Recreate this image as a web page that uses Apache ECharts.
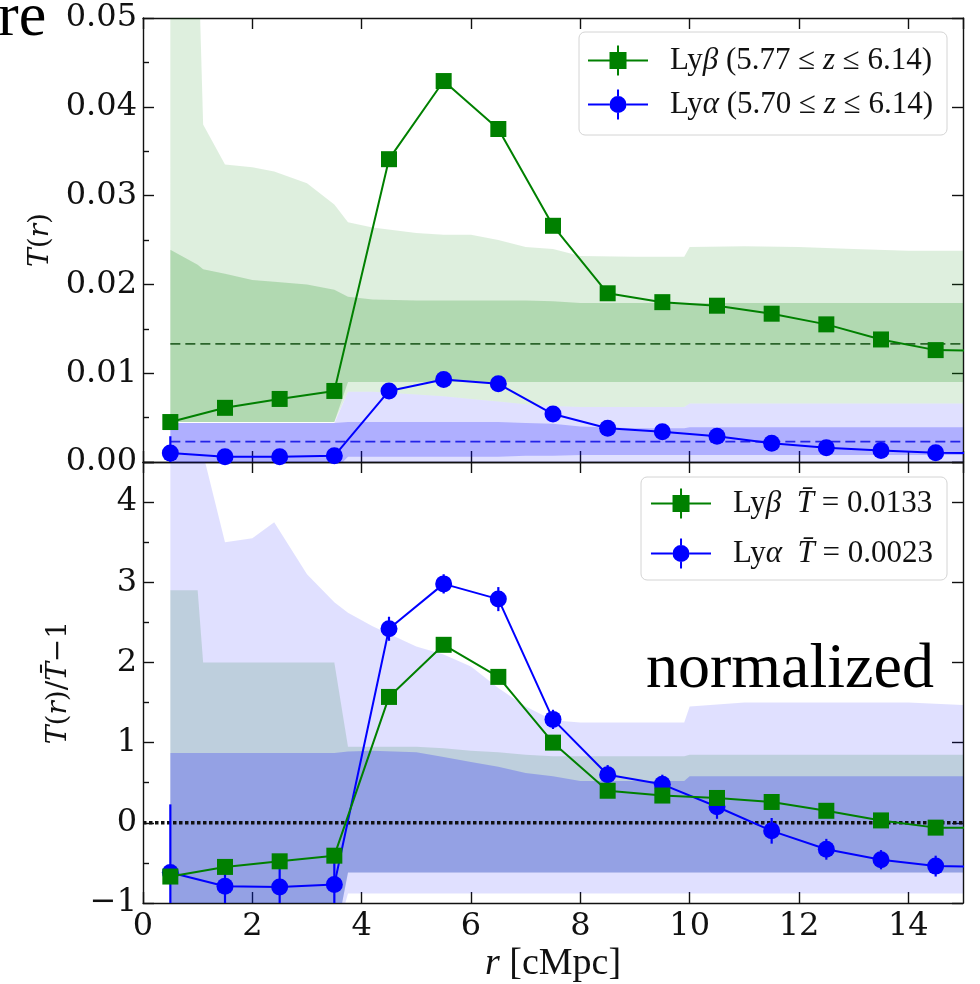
<!DOCTYPE html>
<html><head><meta charset="utf-8">
<script src="https://cdn.jsdelivr.net/npm/echarts@6/dist/echarts.min.js"></script>
<style>html,body{margin:0;padding:0;background:#fff}#c{width:980px;height:984px}</style>
</head><body><div id="c"></div>
<script>
// ---- data ----
const r = [0.5,1.5,2.5,3.5,4.5,5.5,6.5,7.5,8.5,9.5,10.5,11.5,12.5,13.5,14.5,15.5];
const tBeta  = [0.0045,0.0061,0.0071,0.0080,0.0341,0.0429,0.0375,0.0266,0.0190,0.0180,0.0176,0.0167,0.0155,0.0138,0.0126,0.0125];
const tAlpha = [0.0010,0.0006,0.0006,0.0007,0.0080,0.0093,0.0088,0.0054,0.0038,0.0034,0.0029,0.0021,0.0016,0.0013,0.00105,0.0010];
const tBetaErr  = [0.0006,0.0005,0.0005,0.0005,0.0007,0.0007,0.0007,0.0006,0.0005,0.0005,0.0005,0.0005,0.0005,0.0005,0.0005,0.0005];
const tAlphaErr = [0.0019,0.0007,0.0007,0.0007,0.0003,0.0003,0.0003,0.0003,0.0003,0.0003,0.0003,0.0004,0.0003,0.0003,0.0003,0.0003];
const nBeta  = [-0.67,-0.55,-0.48,-0.41,1.57,2.22,1.82,1.00,0.40,0.34,0.31,0.26,0.15,0.03,-0.06,-0.06];
const nAlpha = [-0.62,-0.79,-0.80,-0.77,2.42,2.98,2.79,1.29,0.60,0.48,0.20,-0.10,-0.33,-0.46,-0.54,-0.55];
const nBetaErr  = [0.06,0.06,0.06,0.06,0.06,0.06,0.06,0.06,0.06,0.06,0.06,0.06,0.06,0.06,0.06,0.06];
const nAlphaErr = [0.85,0.30,0.28,0.28,0.15,0.12,0.15,0.12,0.12,0.12,0.15,0.16,0.13,0.12,0.13,0.13];
const meanBeta = 0.0133, meanAlpha = 0.0023;

const bandR = [0.5,1.0,1.1,1.5,2.0,2.4,3.0,3.5,3.75,4.2,5.0,5.5,6.0,6.5,7.0,7.5,8.0,9.0,9.9,10.0,11.0,12.0,13.0,14.0,15.0];
// top panel bands (T units)
const topGreenLightUp = [0.06,0.06,0.038,0.0335,0.0332,0.0327,0.0314,0.029,0.027,0.0264,0.0258,0.0256,0.0256,0.025,0.0242,0.024,0.0232,0.0231,0.0231,0.0242,0.0243,0.0242,0.024,0.0238,0.0238];
const topGreenLightLo = [0.0045,0.0045,0.0045,0.0045,0.0045,0.0045,0.0045,0.0045,0.0079,0.0079,0.0076,0.0074,0.0071,0.0068,0.0065,0.0063,0.0062,0.0062,0.0062,0.0066,0.0066,0.0066,0.0066,0.0066,0.0066];
const topGreenDarkUp  = [0.0239,0.0222,0.0217,0.0212,0.0205,0.0203,0.0200,0.0194,0.0186,0.0183,0.0182,0.0182,0.0182,0.0182,0.0182,0.0181,0.0179,0.0179,0.0179,0.0179,0.0179,0.0179,0.0179,0.0179,0.0179];
const topGreenDarkLo  = [0.0045,0.0045,0.0045,0.0045,0.0045,0.0045,0.0045,0.0045,0.009,0.009,0.009,0.009,0.009,0.009,0.009,0.009,0.009,0.009,0.009,0.009,0.009,0.009,0.009,0.009,0.009];
const topBlueLightUp  = [0.0044,0.0044,0.0044,0.0044,0.0044,0.0044,0.0044,0.0044,0.0079,0.0079,0.0076,0.0074,0.0071,0.0068,0.0065,0.0063,0.0062,0.0062,0.0062,0.0066,0.0066,0.0066,0.0066,0.0066,0.0066];
const topBlueLightLo  = [-0.001,-0.001,-0.001,-0.001,-0.001,-0.001,-0.001,-0.001,-0.001,-0.001,-0.001,-0.001,-0.001,-0.001,-0.001,-0.001,-0.001,-0.001,-0.001,-0.001,-0.001,-0.001,-0.001,-0.001,-0.001];
const topBlueDarkUp   = [0.0044,0.0044,0.0044,0.0044,0.0044,0.0044,0.0044,0.0044,0.0045,0.0045,0.0045,0.0045,0.0045,0.0045,0.0044,0.0043,0.0040,0.0038,0.0038,0.0039,0.0039,0.0039,0.0039,0.0039,0.0039];
const topBlueDarkLo   = [-0.001,-0.001,-0.001,-0.001,-0.001,-0.001,-0.001,-0.001,0.0006,0.0006,0.0006,0.0006,0.0006,0.0006,0.0007,0.0007,0.0008,0.0008,0.0008,0.0008,0.0008,0.0008,0.0008,0.0008,0.0008];
// bottom panel bands (normalized)
const botGreenLightUp = [2.9,2.9,2.0,2.0,2.0,2.0,2.0,2.0,0.95,0.95,0.95,0.93,0.9,0.88,0.85,0.83,0.83,0.83,0.83,0.85,0.85,0.85,0.85,0.85,0.85];
const botGreenLightLo = [-1.5,-1.5,-1.5,-1.5,-1.5,-1.5,-1.5,-1.5,-0.62,-0.62,-0.62,-0.62,-0.62,-0.62,-0.62,-0.62,-0.62,-0.62,-0.62,-0.62,-0.62,-0.62,-0.62,-0.62,-0.62];
const botBlueLightUp  = [6,6,4.6,3.5,3.55,3.75,3.1,2.75,2.62,2.45,2.2,2.1,1.95,1.68,1.45,1.28,1.25,1.25,1.25,1.45,1.5,1.5,1.5,1.5,1.47];
const botBlueLightLo  = [-1.5,-1.5,-1.5,-1.5,-1.5,-1.5,-1.5,-1.5,-0.88,-0.88,-0.88,-0.88,-0.88,-0.88,-0.88,-0.88,-0.88,-0.88,-0.88,-0.88,-0.88,-0.88,-0.88,-0.88,-0.88];
const botBlueDarkUp   = [0.87,0.87,0.87,0.87,0.87,0.87,0.87,0.87,0.89,0.9,0.88,0.82,0.76,0.7,0.62,0.58,0.52,0.52,0.52,0.58,0.58,0.58,0.58,0.58,0.58];
const botBlueDarkLo   = [-1.5,-1.5,-1.5,-1.5,-1.5,-1.5,-1.5,-1.5,-0.62,-0.62,-0.62,-0.62,-0.62,-0.62,-0.62,-0.62,-0.62,-0.62,-0.62,-0.62,-0.62,-0.62,-0.62,-0.62,-0.62];

const legendTop = {
  b_top: '{sp| }{n|Ly}{i|β}{n| (5.77 ≤ }{i|z}{n| ≤ 6.14)}',
  a_top: '{sp| }{n|Ly}{i|α}{n| (5.70 ≤ }{i|z}{n| ≤ 6.14)}'
};
const legendBot = {
  b_bot: '{sp| }{n|Ly}{i|β}{n|  }{i|T̄}{n| = 0.0133}',
  a_bot: '{sp| }{n|Ly}{i|α}{n|  }{i|T̄}{n| = 0.0023}'
};

// ---- helpers ----
const GREEN = '#008000', BLUE = '#0000ff';
function band(xi, yi, up, lo, color, z) {
  return {
    type: 'custom', xAxisIndex: xi, yAxisIndex: yi, silent: true, clip: true, z: z,
    data: [[bandR[0], lo[0]]],
    renderItem: function (params, api) {
      const pts = [];
      for (let i = 0; i < bandR.length; i++) pts.push(api.coord([bandR[i], up[i]]));
      for (let i = bandR.length - 1; i >= 0; i--) pts.push(api.coord([bandR[i], lo[i]]));
      return { type: 'polygon', shape: { points: pts }, style: { fill: color } };
    }
  };
}
function errs(xi, yi, vals, e, color, z) {
  return {
    type: 'custom', xAxisIndex: xi, yAxisIndex: yi, silent: true, clip: true, z: z,
    data: r.map((x, i) => [x, vals[i], e[i]]),
    encode: { x: 0, y: 1 },
    renderItem: function (params, api) {
      const x = api.value(0), y = api.value(1), d = api.value(2);
      const p1 = api.coord([x, y - d]), p2 = api.coord([x, y + d]);
      return { type: 'line', shape: { x1: p1[0], y1: p1[1], x2: p2[0], y2: p2[1] }, style: { stroke: color, lineWidth: 2.2 } };
    }
  };
}
function line(name, xi, yi, vals, color, sym, size, z) {
  return {
    type: 'line', name: name, xAxisIndex: xi, yAxisIndex: yi, silent: true, z: z,
    data: r.map((x, i) => [x, vals[i]]),
    symbol: sym, symbolSize: size, showAllSymbol: true,
    itemStyle: { color: color }, lineStyle: { color: color, width: 2 }
  };
}
function hline(xi, yi, y0, x0, color, width, dash, z) {
  return {
    type: 'line', xAxisIndex: xi, yAxisIndex: yi, silent: true, z: z, symbol: 'none',
    data: [[x0, y0], [15, y0]],
    lineStyle: { color: color, width: width, type: dash }
  };
}

const AX = { color: '#111', width: 1.4 };
const tickFont = { fontFamily: 'DejaVu Serif', fontSize: 32, color: '#111' };
function xAx(grid, pos, labels) {
  return {
    type: 'value', gridIndex: grid, position: pos, min: 0, max: 15, interval: 2,
    axisLine: { show: true, onZero: false, lineStyle: AX },
    axisTick: { show: true, inside: true, length: 11, lineStyle: AX },
    splitLine: { show: false },
    axisLabel: Object.assign({ show: labels, margin: 8, showMaxLabel: false, formatter: v => String(v) }, tickFont)
  };
}
function yAx(grid, pos, min, max, interval, labels, fmt, minor) {
  return {
    type: 'value', gridIndex: grid, position: pos, min: min, max: max, interval: interval,
    axisLine: { show: true, onZero: false, lineStyle: AX },
    axisTick: { show: true, inside: true, length: 11, lineStyle: AX },
    minorTick: { show: minor, splitNumber: 2, length: 6, lineStyle: AX },
    splitLine: { show: false }, minorSplitLine: { show: false },
    axisLabel: Object.assign({ show: labels, margin: 6, formatter: fmt }, tickFont)
  };
}
const nameRich = {
  n: { fontFamily: 'DejaVu Serif', fontSize: 28, color: '#111' },
  i: { fontFamily: 'DejaVu Serif', fontSize: 28, fontStyle: 'italic', color: '#111' }
};
const legRich = {
  sp: { width: 17 },
  n: { fontFamily: 'Liberation Serif', fontSize: 31, color: '#111', lineHeight: 30 },
  i: { fontFamily: 'Liberation Serif', fontSize: 31, fontStyle: 'italic', color: '#111', lineHeight: 30 }
};
const iconSq = 'path://M0,14h21.5v2h-21.5z M38.5,14h21.5v2h-21.5z M21.5,6.5h17v17h-17z M29,0h2v6.5h-2z M29,23.5h2v6.5h-2z';
const iconCi = 'path://M0,14h21.5v2h-21.5z M38.5,14h21.5v2h-21.5z M38.5,15a8.5,8.5 0 1,1 -17,0a8.5,8.5 0 1,1 17,0z M29,0h2v6.6h-2z M29,23.4h2v6.6h-2z';

const yTopAx = yAx(0, 'left', 0, 0.05, 0.01, true, v => v.toFixed(2), true);
yTopAx.name = '{i|T}{n|(}{i|r}{n|)}';
yTopAx.nameLocation = 'middle'; yTopAx.nameGap = 88; yTopAx.nameRotate = 90;
yTopAx.nameTextStyle = { rich: nameRich };
const yBotAx = yAx(1, 'left', -1, 4.5, 1, true, v => String(v).replace('-', '\u2212'), true);
yBotAx.axisLabel.showMaxLabel = false;
yBotAx.name = '{i|T}{n|(}{i|r}{n|)/}{i|T̄}{n|\u22121}';
yBotAx.nameLocation = 'middle'; yBotAx.nameGap = 70; yBotAx.nameRotate = 90;
yBotAx.nameTextStyle = { rich: nameRich };
const xBotAx = xAx(1, 'bottom', true);
xBotAx.name = '{i|r}{n| [cMpc]}';
xBotAx.nameLocation = 'middle'; xBotAx.nameGap = 42;
xBotAx.nameTextStyle = { rich: {
  n: { fontFamily: 'Liberation Serif', fontSize: 38, color: '#111' },
  i: { fontFamily: 'Liberation Serif', fontSize: 38, fontStyle: 'italic', color: '#111' } } };

const legendBase = {
  orient: 'vertical', right: 33, itemWidth: 60, itemHeight: 30, selectedMode: false,
  borderColor: '#d4d4d4', borderWidth: 1, borderRadius: 6, backgroundColor: 'rgba(255,255,255,0.85)',
  textStyle: { fontFamily: 'Liberation Serif', fontSize: 31, color: '#111', rich: legRich }
};

const option = {
  animation: false,
  backgroundColor: '#fff',
  grid: [
    { left: 143, right: 17, top: 18, height: 444 },
    { left: 143, right: 17, top: 462, height: 443 }
  ],
  xAxis: [ xAx(0, 'bottom', false), xAx(0, 'top', false), xBotAx, xAx(1, 'top', false) ],
  yAxis: [
    yTopAx, yAx(0, 'right', 0, 0.05, 0.01, false, v => v, false),
    yBotAx, yAx(1, 'right', -1, 4.5, 1, false, v => v, false)
  ],
  legend: [
    Object.assign({}, legendBase, {
      top: 32, itemGap: 13, padding: [13, 14, 15, 9],
      data: [{ name: 'b_top', icon: iconSq }, { name: 'a_top', icon: iconCi }],
      formatter: n => legendTop[n]
    }),
    Object.assign({}, legendBase, {
      top: 477, itemGap: 19, padding: [11, 14, 11, 10],
      data: [{ name: 'b_bot', icon: iconSq }, { name: 'a_bot', icon: iconCi }],
      formatter: n => legendBot[n]
    })
  ],
  graphic: [
    { type: 'text', x: -2, y: -12, z: 100, style: { text: 're', font: '62px "Liberation Serif"', fill: '#000', verticalAlign: 'top' } },
    { type: 'text', x: 646, y: 638, z: 100, style: { text: 'normalized', font: '64px "Liberation Serif"', fill: '#000', verticalAlign: 'top' } }
  ],
  series: [
    // top panel
    band(0, 0, topBlueLightUp, topBlueLightLo, 'rgba(0,0,255,0.12)', 1),
    band(0, 0, topBlueDarkUp, topBlueDarkLo, 'rgba(0,0,255,0.22)', 2),
    band(0, 0, topGreenLightUp, topGreenLightLo, 'rgba(0,128,0,0.13)', 3),
    band(0, 0, topGreenDarkUp, topGreenDarkLo, 'rgba(0,128,0,0.2)', 4),
    hline(0, 0, meanBeta, bandR[0], 'rgba(20,80,20,0.85)', 1.6, [10, 5], 5),
    hline(0, 0, meanAlpha, bandR[0], 'rgba(20,20,230,0.9)', 1.6, [10, 5], 5),
    errs(0, 0, tBeta, tBetaErr, GREEN, 6),
    errs(0, 0, tAlpha, tAlphaErr, BLUE, 6),
    line('b_top', 0, 0, tBeta, GREEN, 'rect', 16, 7),
    line('a_top', 0, 0, tAlpha, BLUE, 'circle', 17, 8),
    // bottom panel
    band(2, 2, botGreenLightUp, botGreenLightLo, 'rgba(0,128,0,0.15)', 1),
    band(2, 2, botBlueLightUp, botBlueLightLo, 'rgba(0,0,255,0.12)', 3),
    band(2, 2, botBlueDarkUp, botBlueDarkLo, 'rgba(0,0,255,0.22)', 4),
    hline(2, 2, 0, 0, '#111', 3.5, [3.5, 2.5], 5),
    errs(2, 2, nAlpha, nAlphaErr, BLUE, 6),
    errs(2, 2, nBeta, nBetaErr, GREEN, 6),
    line('a_bot', 2, 2, nAlpha, BLUE, 'circle', 17, 7),
    line('b_bot', 2, 2, nBeta, GREEN, 'rect', 16, 8)
  ]
};
const chart = echarts.init(document.getElementById('c'), null, { renderer: 'canvas' });
chart.setOption(option);
</script>
</body></html>
